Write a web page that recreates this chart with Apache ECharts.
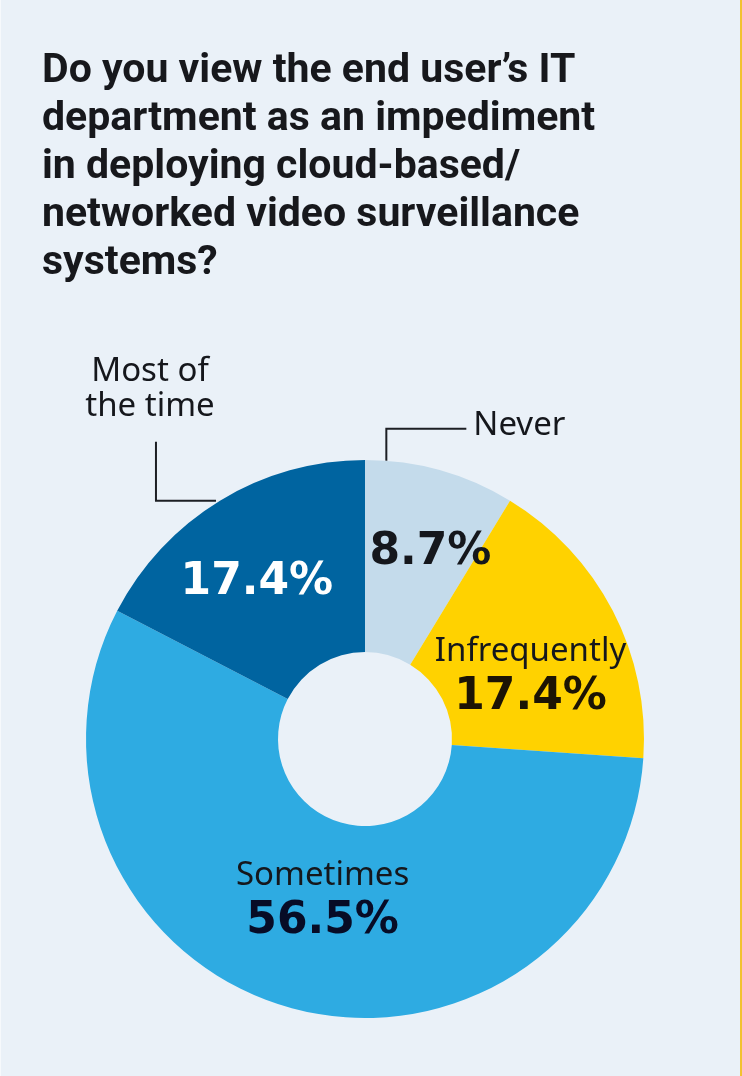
<!DOCTYPE html>
<html>
<head>
<meta charset="utf-8">
<title>IT department as an impediment</title>
<script src="https://cdn.jsdelivr.net/npm/echarts@6/dist/echarts.min.js"></script>
<style>
  html, body { margin: 0; padding: 0; background: #eaf1f8; }
  #chart { width: 742px; height: 1076px; }
</style>
</head>
<body>
<div id="chart"></div>
<script>
// data
var categories = ['Never', 'Infrequently', 'Sometimes', 'Most of the time'];
var shares = [8.7, 17.4, 56.5, 17.4];
var titleLines = [
  'Do you view the end user\u2019s IT',
  'department as an impediment',
  'in deploying cloud-based/',
  'networked video surveillance',
  'systems?'
];
// names that sit outside the ring with a leader line
var outsideNames = ['Never', 'Most of the time'];

var sliceColors = ['#c4dbeb', '#ffd200', '#2eabe2', '#0064a0'];
var valueColors = ['#15171c', '#1c1404', '#070c26', '#ffffff'];
// shifts of the inside labels from the middle of their slice
var labelNudge = [[16, -10], [3, 21], [7, -16], [-13, 0]];

var CENTER = [365, 739];
var RADIUS = [87, 279];
var LABEL_FONT = "'Noto Sans', 'Open Sans', sans-serif";
var VALUE_FONT = "'DejaVu Sans', sans-serif";

// middle of a slice, measured clockwise from 12 o'clock
var total = shares.reduce(function (a, b) { return a + b; }, 0);
function sliceMid(i) {
  var before = 0;
  for (var k = 0; k < i; k++) before += shares[k];
  var theta = (before + shares[i] / 2) / total * Math.PI * 2;
  var rm = (RADIUS[0] + RADIUS[1]) / 2;
  return [CENTER[0] + rm * Math.sin(theta), CENTER[1] - rm * Math.cos(theta)];
}

var chart = echarts.init(document.getElementById('chart'));

var option = {
  backgroundColor: '#eaf1f8',
  animation: false,
  title: {
    text: titleLines.join('\n'),
    left: 42,
    top: 48,
    padding: 0,
    textStyle: {
      fontFamily: "Roboto, 'Liberation Sans', sans-serif",
      fontWeight: 'bold',
      fontSize: 41,
      lineHeight: 48,
      color: '#17181c'
    }
  },
  series: [{
    type: 'pie',
    center: CENTER,
    radius: RADIUS,
    startAngle: 90,
    clockwise: true,
    silent: true,
    emphasis: { disabled: true },
    itemStyle: { borderWidth: 0 },
    data: categories.map(function (name, i) {
      return {
        name: name,
        value: shares[i],
        itemStyle: { color: sliceColors[i] },
        label: { rich: { v: { color: valueColors[i] } } }
      };
    }),
    label: {
      show: true,
      position: 'inside',
      formatter: function (p) {
        var v = '{v|' + p.value.toFixed(1) + '%}';
        if (outsideNames.indexOf(p.name) > -1) return v;
        return '{n|' + p.name + '}\n' + v;
      },
      rich: {
        n: { fontFamily: LABEL_FONT, fontSize: 33, lineHeight: 44, color: '#15171c' },
        v: { fontFamily: VALUE_FONT, fontWeight: 'bold', fontSize: 44, lineHeight: 48 }
      }
    },
    labelLine: { show: false },
    labelLayout: function (params) {
      var i = params.dataIndex;
      var m = sliceMid(i);
      return {
        x: m[0] + labelNudge[i][0],
        y: m[1] + labelNudge[i][1],
        align: 'center',
        verticalAlign: 'middle'
      };
    }
  }]
};

chart.setOption(option);

// leader lines for the outside names, from the ring's own layout
var sliceData = chart.getModel().getSeriesByIndex(0).getData();
function arcPoint(idx, frac) {
  var lay = sliceData.getItemLayout(idx);
  var a = lay.startAngle + (lay.endAngle - lay.startAngle) * frac;
  return [lay.cx + lay.r * Math.cos(a), lay.cy + lay.r * Math.sin(a)];
}

var lineStyle = { stroke: '#1d1f24', lineWidth: 2, fill: null };
var textStyle = { fontFamily: LABEL_FONT, fontSize: 33, fill: '#15171c' };

var pNever = arcPoint(categories.indexOf('Never'), 0.14);
var neverPts = [pNever, [pNever[0], pNever[1] - 32], [pNever[0] + 80, pNever[1] - 32]];

var pMost = arcPoint(categories.indexOf('Most of the time'), 0.5);
var mostPts = [[pMost[0] - 4, pMost[1]], [pMost[0] - 64, pMost[1]], [pMost[0] - 64, pMost[1] - 59]];

chart.setOption({
  graphic: [
    { type: 'polyline', shape: { points: neverPts }, style: lineStyle },
    {
      type: 'text', x: neverPts[2][0] + 7, y: neverPts[2][1] - 3,
      style: echarts.util.extend({ text: 'Never', align: 'left', verticalAlign: 'middle' }, textStyle)
    },
    { type: 'polyline', shape: { points: mostPts }, style: lineStyle },
    {
      type: 'text', x: mostPts[2][0] - 6, y: mostPts[2][1] - 18,
      style: echarts.util.extend({
        text: 'Most of the time'.replace(' of ', ' of\n'),
        align: 'center', verticalAlign: 'bottom', lineHeight: 35
      }, textStyle)
    },
    // thin edges of the panel
    { type: 'rect', shape: { x: 0, y: 0, width: 1, height: 1076 }, style: { fill: '#f6f9fc' } },
    { type: 'rect', shape: { x: 740, y: 0, width: 2, height: 1076 }, style: { fill: '#f2c230' } }
  ]
});
</script>
</body>
</html>
